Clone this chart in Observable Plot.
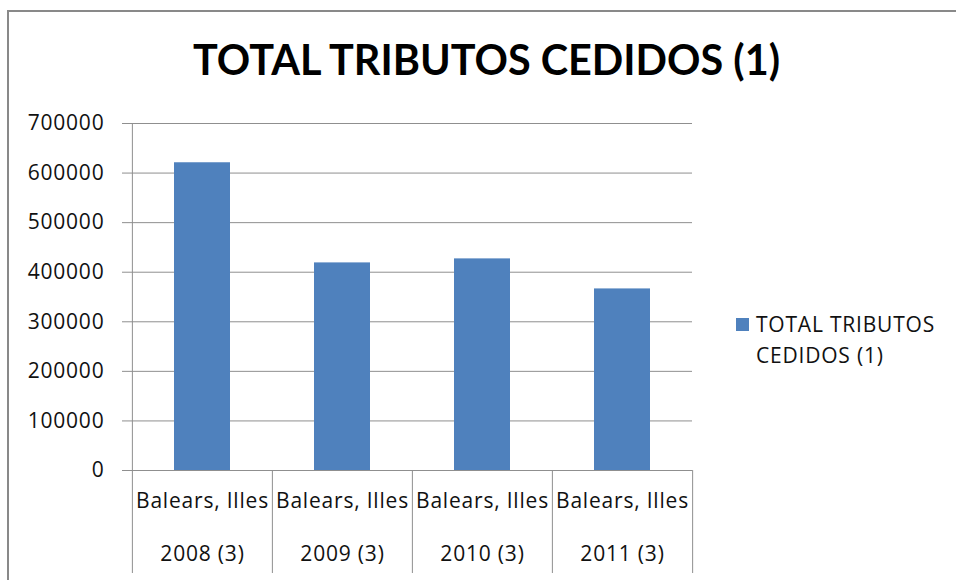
<!DOCTYPE html>
<html>
<head>
<meta charset="utf-8">
<script src="https://cdn.jsdelivr.net/npm/d3@7"></script>
<script src="https://cdn.jsdelivr.net/npm/@observablehq/plot@0.6"></script>
<style>
  html, body { margin: 0; padding: 0; background: #fff; overflow: hidden; }
  #wrap { position: relative; width: 956px; height: 580px; overflow: hidden; background: #fff; }
  #chart { position: absolute; left: 0; top: 0; }
  #overlay { position: absolute; left: 0; top: 0; pointer-events: none; }
</style>
</head>
<body>
<div id="wrap">
  <div id="chart"></div>
  <svg id="overlay" width="956" height="580"></svg>
</div>
<script>
// ---- data ----
const title = "TOTAL TRIBUTOS CEDIDOS (1)";
const seriesName = ["TOTAL TRIBUTOS", "CEDIDOS (1)"];
const regions = ["Balears, Illes", "Balears, Illes", "Balears, Illes", "Balears, Illes"];
const years = ["2008 (3)", "2009 (3)", "2010 (3)", "2011 (3)"];
const values = [620800, 418800, 426900, 366300];
const yTicks = [0, 100000, 200000, 300000, 400000, 500000, 600000, 700000];

const data = years.map((y, i) => ({year: y, region: regions[i], value: values[i]}));

// ---- layout ----
const W = 956, H = 580;
const mL = 131, mR = 264, mT = 123, mB = 110;
const step = (W - mL - mR) / years.length;
const barColor = "#4F81BD";
const gridColor = "#8f8f8f";
const font = "'Open Sans', Lato, sans-serif";
const titleFont = "Lato, 'Open Sans', sans-serif";

const chart = Plot.plot({
  width: W,
  height: H,
  marginLeft: mL,
  marginRight: mR,
  marginTop: mT,
  marginBottom: mB,
  style: {fontFamily: font, fontSize: "21px", color: "#000", background: "transparent", letterSpacing: "0.8px"},
  x: {domain: years, paddingInner: 0.6, paddingOuter: 0.3, axis: null},
  y: {domain: [0, 700000], ticks: yTicks, axis: null},
  marks: [
    Plot.ruleY(yTicks, {stroke: gridColor, strokeWidth: 1}),
    Plot.axisY({ticks: yTicks, tickSize: 9, tickPadding: 18, stroke: gridColor,
                tickFormat: d3.format("d"), label: null, fontSize: 21, fill: "#111"}),
    Plot.barY(data, {x: "year", y: "value", fill: barColor}),
    // vertical axis line
    Plot.ruleX([years[0]], {dx: -step / 2, stroke: gridColor}),
    // category dividers below the axis
    Plot.axisX({ticks: years, tickSize: 103, tickFormat: () => "", dx: -step / 2, stroke: gridColor, label: null}),
    Plot.axisX({ticks: [years[years.length - 1]], tickSize: 103, tickFormat: () => "", dx: step / 2, stroke: gridColor, label: null}),
    // two-level category labels
    Plot.text(data, {x: "year", text: "region", frameAnchor: "bottom", dy: 37, fontSize: 21, fill: "#111"}),
    Plot.text(data, {x: "year", text: "year", frameAnchor: "bottom", dy: 90.5, fontSize: 21, fill: "#111"})
  ]
});
document.getElementById("chart").appendChild(chart);

// ---- title, legend, outer border ----
const ov = d3.select("#overlay");
ov.append("rect")
  .attr("x", 8).attr("y", 11).attr("width", 1000).attr("height", 700)
  .attr("fill", "none").attr("stroke", "#898989").attr("stroke-width", 2);
ov.append("text")
  .attr("x", 486.5).attr("y", 75)
  .attr("text-anchor", "middle")
  .attr("font-family", titleFont).attr("font-weight", "bold").attr("font-size", 42)
  .attr("textLength", 587).attr("lengthAdjust", "spacingAndGlyphs")
  .attr("fill", "#000")
  .text(title);
ov.append("rect")
  .attr("x", 736).attr("y", 318).attr("width", 13).attr("height", 13)
  .attr("fill", barColor);
ov.append("text")
  .attr("font-family", font).attr("font-size", 21).attr("fill", "#111")
  .attr("letter-spacing", "0.8px")
  .selectAll("tspan").data(seriesName).join("tspan")
  .attr("x", 756).attr("y", (d, i) => 332 + i * 31)
  .text(d => d);
</script>
</body>
</html>
